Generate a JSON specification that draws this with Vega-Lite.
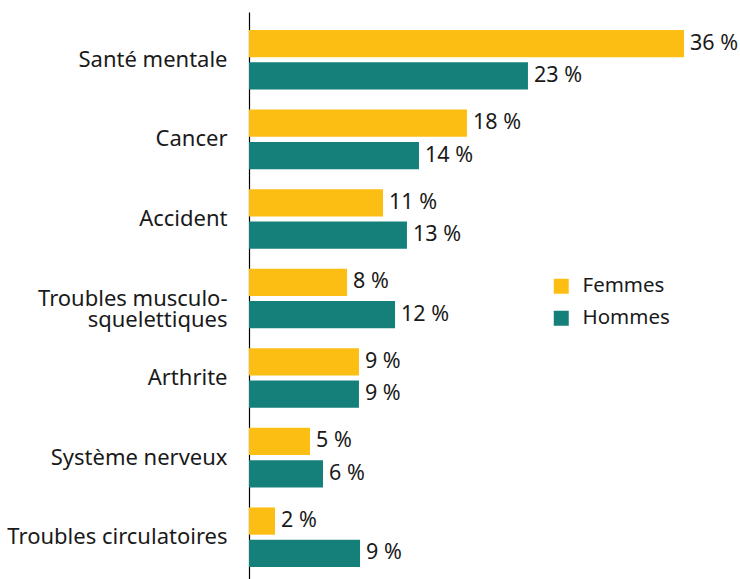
{
  "$schema": "https://vega.github.io/schema/vega-lite/v6.json",
  "width": 486,
  "height": 567,
  "autosize": {"type": "none"},
  "padding": {"left": 249, "top": 12, "right": 5, "bottom": 0},
  "background": "white",
  "config": {"view": {"stroke": null}, "font": "Noto Sans"},
  "data": {"values": [
    {"cat": "Santé mentale", "sexe": "Femmes", "v": 35.8, "lab": "36 %"},
    {"cat": "Santé mentale", "sexe": "Hommes", "v": 22.96, "lab": "23 %"},
    {"cat": "Cancer", "sexe": "Femmes", "v": 17.94, "lab": "18 %"},
    {"cat": "Cancer", "sexe": "Hommes", "v": 13.99, "lab": "14 %"},
    {"cat": "Accident", "sexe": "Femmes", "v": 11.03, "lab": "11 %"},
    {"cat": "Accident", "sexe": "Hommes", "v": 13.0, "lab": "13 %"},
    {"cat": "Troubles musculo-squelettiques", "sexe": "Femmes", "v": 8.07, "lab": "8 %"},
    {"cat": "Troubles musculo-squelettiques", "sexe": "Hommes", "v": 12.02, "lab": "12 %"},
    {"cat": "Arthrite", "sexe": "Femmes", "v": 9.05, "lab": "9 %"},
    {"cat": "Arthrite", "sexe": "Hommes", "v": 9.05, "lab": "9 %"},
    {"cat": "Système nerveux", "sexe": "Femmes", "v": 5.02, "lab": "5 %"},
    {"cat": "Système nerveux", "sexe": "Hommes", "v": 6.09, "lab": "6 %"},
    {"cat": "Troubles circulatoires", "sexe": "Femmes", "v": 2.14, "lab": "2 %"},
    {"cat": "Troubles circulatoires", "sexe": "Hommes", "v": 9.14, "lab": "9 %"}
  ]},
  "encoding": {
    "y": {
      "field": "cat", "type": "nominal", "sort": null,
      "scale": {"paddingInner": 0.2516, "paddingOuter": 0.1887, "align": 0.6},
      "axis": {
        "title": null, "ticks": false, "domainColor": "#000000", "domainWidth": 1.2,
        "labelPadding": 22, "labelFontSize": 22, "labelColor": "#1a1a1a", "labelFont": "Noto Sans",
        "labelLimit": 300, "labelLineHeight": 21,
        "labelExpr": "datum.label == 'Troubles musculo-squelettiques' ? ['Troubles musculo-', 'squelettiques'] : datum.label"
      }
    },
    "yOffset": {"field": "sexe", "type": "nominal", "sort": ["Femmes", "Hommes"], "scale": {"paddingInner": 0.156, "paddingOuter": 0}},
    "x": {"field": "v", "type": "quantitative", "scale": {"domain": [0, 40], "nice": false}, "axis": null}
  },
  "layer": [
    {
      "mark": {"type": "bar"},
      "encoding": {
        "color": {
          "field": "sexe", "type": "nominal",
          "scale": {"domain": ["Femmes", "Hommes"], "range": ["#FCBE12", "#15807A"]},
          "legend": {
            "title": null, "orient": "none", "legendX": 302, "legendY": 264,
            "symbolType": "square", "symbolSize": 225, "symbolStrokeWidth": 0,
            "labelFontSize": 20.5, "labelColor": "#1a1a1a", "labelOffset": 11, "rowPadding": 11
          }
        }
      }
    },
    {
      "mark": {"type": "text", "align": "left", "baseline": "middle", "dx": 6, "fontSize": 21.5, "color": "#1a1a1a"},
      "encoding": {"text": {"field": "lab"}}
    }
  ]
}
